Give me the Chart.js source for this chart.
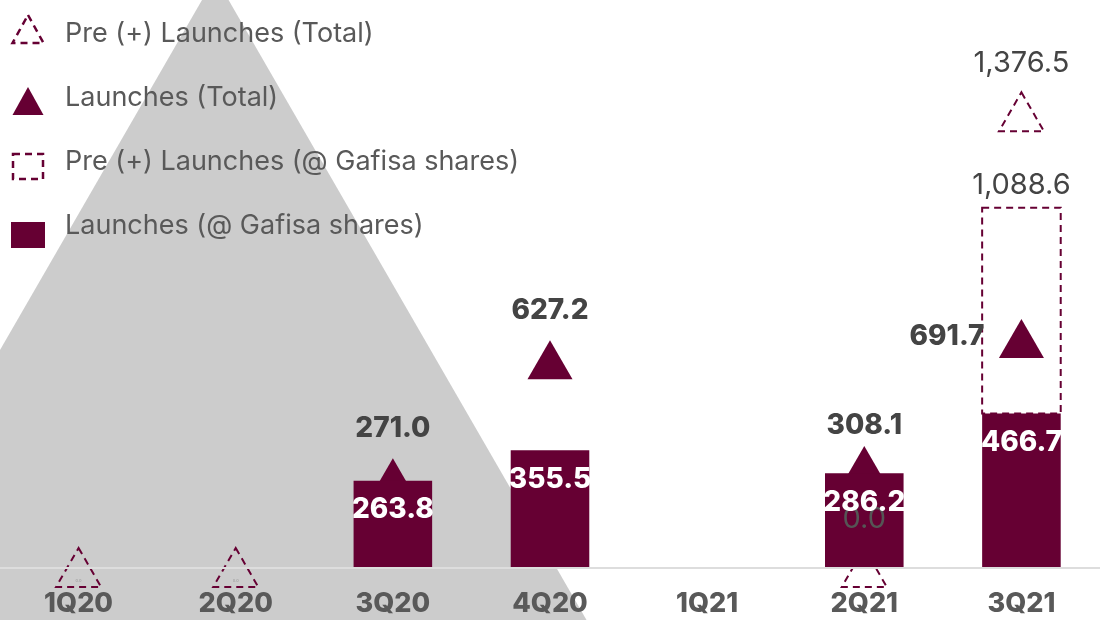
<!DOCTYPE html>
<html>
<head>
<meta charset="utf-8">
<script src="https://cdn.jsdelivr.net/npm/chart.js@4.4.1/dist/chart.umd.min.js"></script>
<style>
  html, body { margin: 0; padding: 0; background: #fff; }
  #wrap { width: 1100px; height: 620px; position: relative; }
</style>
</head>
<body>
<div id="wrap"><canvas id="launchChart"></canvas></div>
<script>
const categories = ["1Q20", "2Q20", "3Q20", "4Q20", "1Q21", "2Q21", "3Q21"];
const launchesShares = [0, 0, 263.8, 355.5, 0, 286.2, 466.7];
const preLaunchesShares = [null, null, null, null, null, null, 1088.6];
const launchesTotal = [null, null, 271.0, 627.2, null, 308.1, 691.7];
const preLaunchesTotal = [0, 0, null, null, null, 0, 1376.5];

// big grey shape behind the plot (index position, value)
const shadeX = [0.87];
const shadeY = [426];

const MAROON = "#660033";
const FONT = "Inter";

const fmt = (v) =>
  v.toLocaleString("en-US", { minimumFractionDigits: 1, maximumFractionDigits: 1 });

const legendItems = [
  { text: "Pre (+) Launches (Total)", icon: "dashTriangle", textY: 34, iconY: 30 },
  { text: "Launches (Total)", icon: "fillTriangle", textY: 98, iconY: 102 },
  { text: "Pre (+) Launches (@ Gafisa shares)", icon: "dashSquare", textY: 162, iconY: 166 },
  { text: "Launches (@ Gafisa shares)", icon: "fillSquare", textY: 226, iconY: 235 },
];

const dashedDraw = {
  id: "dashedDraw",
  beforeDatasetDraw(chart, args) {
    const ds = chart.data.datasets[args.index];
    if (ds.key === "preTotal") chart.ctx.setLineDash([7, 5]);
  },
  afterDatasetDraw(chart, args) {
    const ctx = chart.ctx;
    ctx.setLineDash([]);
    const ds = chart.data.datasets[args.index];
    if (ds.key !== "preShares") return;
    ctx.save();
    ctx.strokeStyle = MAROON;
    ctx.lineWidth = 2;
    ctx.setLineDash([7, 5]);
    args.meta.data.forEach((el, i) => {
      if (preLaunchesShares[i] == null) return;
      const { x, y, base, width } = el.getProps(["x", "y", "base", "width"], true);
      ctx.strokeRect(x - width / 2, y, width, base - y);
    });
    ctx.restore();
  },
};

const valueLabels = {
  id: "valueLabels",
  afterDatasetsDraw(chart) {
    const ctx = chart.ctx;
    ctx.save();
    ctx.textAlign = "center";
    ctx.textBaseline = "middle";
    chart.data.datasets.forEach((ds, di) => {
      const meta = chart.getDatasetMeta(di);
      meta.data.forEach((el, i) => {
        if (ds.key === "shares") {
          const v = launchesShares[i];
          if (!v) return;
          ctx.font = `800 28px ${FONT}`;
          ctx.fillStyle = "#ffffff";
          ctx.fillText(fmt(v), el.x, el.y + 29);
        } else if (ds.key === "preShares") {
          const v = preLaunchesShares[i];
          if (v == null) return;
          ctx.font = `29px ${FONT}`;
          ctx.fillStyle = "#444444";
          ctx.fillText(fmt(v), el.x, el.y - 22);
        } else if (ds.key === "total") {
          const v = launchesTotal[i];
          if (v == null) return;
          ctx.font = `800 28px ${FONT}`;
          ctx.fillStyle = "#444444";
          if (i === categories.length - 1) {
            ctx.textAlign = "right";
            ctx.fillText(fmt(v), el.x - 37, el.y - 8);
            ctx.textAlign = "center";
          } else {
            const lift = i === 5 ? 20 : 30;
            ctx.fillText(fmt(v), el.x, el.y - 26 - lift);
          }
        } else if (ds.key === "preTotal") {
          const v = preLaunchesTotal[i];
          if (v == null) return;
          if (i < 2) {
            ctx.font = `4px ${FONT}`;
            ctx.fillStyle = "#999999";
            ctx.fillText(fmt(v), el.x, el.y + 7);
          } else {
            ctx.font = `29px ${FONT}`;
            ctx.fillStyle = i === 5 ? "#555555" : "#444444";
            ctx.fillText(fmt(v), el.x, el.y - 26 - 29);
          }
        }
      });
    });
    ctx.restore();
  },
};

const sideLegend = {
  id: "sideLegend",
  afterDraw(chart) {
    const ctx = chart.ctx;
    const cx = 28;
    ctx.save();
    legendItems.forEach((item) => {
      const cy = item.iconY;
      const dashed = item.icon.startsWith("dash");
      ctx.strokeStyle = MAROON;
      ctx.fillStyle = MAROON;
      ctx.lineWidth = 2.5;
      ctx.setLineDash(dashed ? [7, 5] : []);
      ctx.beginPath();
      if (item.icon.endsWith("Triangle")) {
        ctx.moveTo(cx, cy - 15);
        ctx.lineTo(cx + 15.5, cy + 13);
        ctx.lineTo(cx - 15.5, cy + 13);
        ctx.closePath();
      } else if (dashed) {
        ctx.rect(cx - 15, cy - 12, 30, 25);
      } else {
        ctx.rect(cx - 17, cy - 13, 34, 26);
      }
      if (dashed) ctx.stroke();
      else ctx.fill();
      ctx.setLineDash([]);
      ctx.fillStyle = "#595959";
      ctx.font = `27px ${FONT}`;
      ctx.textAlign = "left";
      ctx.textBaseline = "middle";
      ctx.fillText(item.text, 65, item.textY);
    });
    ctx.restore();
  },
};

const ctx = document.getElementById("launchChart").getContext("2d");

new Chart(ctx, {
  type: "bar",
  data: {
    labels: categories,
    datasets: [
      {
        key: "shade",
        type: "scatter",
        data: shadeX.map((x, i) => ({ x, y: shadeY[i] })),
        xAxisID: "xg",
        yAxisID: "y",
        pointStyle: "triangle",
        pointRadius: 450,
        backgroundColor: "#cccccc",
        borderWidth: 0,
        clip: false,
        order: 10,
      },
      {
        key: "preTotal",
        label: "Pre (+) Launches (Total)",
        type: "line",
        data: preLaunchesTotal,
        yAxisID: "yt",
        showLine: false,
        pointStyle: "triangle",
        pointRadius: 26,
        backgroundColor: "rgba(0,0,0,0)",
        borderColor: MAROON,
        borderWidth: 2,
        clip: false,
        order: 6,
      },
      {
        key: "total",
        label: "Launches (Total)",
        type: "line",
        data: launchesTotal,
        yAxisID: "yt",
        showLine: false,
        pointStyle: "triangle",
        pointRadius: 26,
        backgroundColor: MAROON,
        borderColor: MAROON,
        borderWidth: 0,
        clip: false,
        order: 5,
      },
      {
        key: "preShares",
        label: "Pre (+) Launches (@ Gafisa shares)",
        data: preLaunchesShares.map((v, i) => (v == null ? null : [launchesShares[i], v])),
        backgroundColor: "rgba(0,0,0,0)",
        borderWidth: 0,
        grouped: false,
        order: 3,
      },
      {
        key: "shares",
        label: "Launches (@ Gafisa shares)",
        data: launchesShares,
        backgroundColor: MAROON,
        borderWidth: 0,
        grouped: false,
        order: 2,
      },
    ],
  },
  options: {
    responsive: true,
    maintainAspectRatio: false,
    animation: false,
    events: [],
    layout: { padding: 0, autoPadding: false },
    datasets: { bar: { barPercentage: 0.5, categoryPercentage: 1.0 } },
    plugins: { legend: { display: false }, tooltip: { enabled: false } },
    scales: {
      x: {
        afterFit: (scale) => { scale.height = 52; },
        grid: { display: false, drawTicks: false },
        border: { display: true, color: "#dddddd", width: 2, z: 1 },
        ticks: {
          z: 1,
          padding: 20,
          maxRotation: 0,
          color: "#595959",
          font: { family: FONT, size: 27, weight: 800 },
        },
      },
      xg: { type: "linear", display: false, offset: false, min: -0.5, max: 6.5 },
      y: { display: false, min: 0, max: 1716 },
      yt: { display: false, min: 18, max: 1734 },
    },
  },
  plugins: [dashedDraw, valueLabels, sideLegend],
});
</script>
</body>
</html>
